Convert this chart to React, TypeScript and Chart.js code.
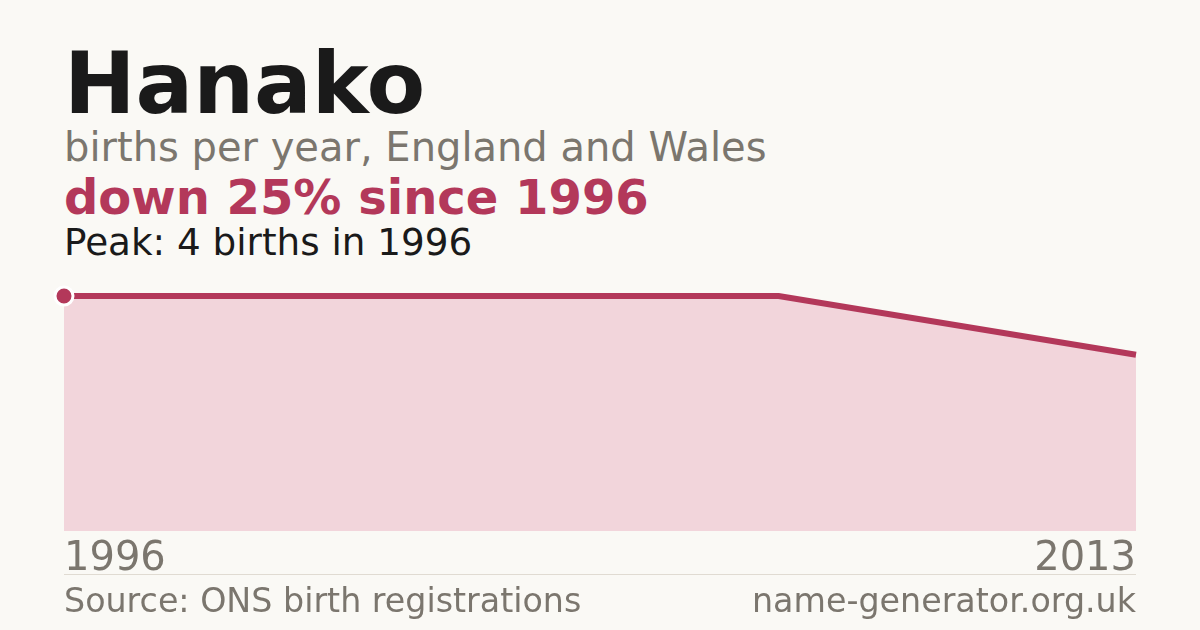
import React, { useEffect, useRef } from 'react';
import Chart from 'chart.js/auto';

// birth counts, only the 1996 peak and the 2013 value are labelled
const years = ['1996', '2002', '2008', '2013'];
const births = [4, 4, 4, 3];
const shownYears = ['1996', '2013'];

const FONT = '"DejaVu Sans", Verdana, sans-serif';
const RED = '#b3385a';
const GREY = '#7b766e';

export default function App() {
  const canvasRef = useRef<HTMLCanvasElement | null>(null);
  const chartRef = useRef<Chart | null>(null);

  useEffect(() => {
    document.body.style.margin = '0';
    if (!canvasRef.current) return;
    if (chartRef.current) chartRef.current.destroy();

    chartRef.current = new Chart(canvasRef.current, {
      type: 'line',
      data: {
        labels: years,
        datasets: [
          {
            data: births,
            borderColor: RED,
            borderWidth: 6,
            backgroundColor: '#f2d5db',
            fill: 'origin',
            tension: 0,
            pointRadius: births.map((_, i) => (i === 0 ? 9 : 0)),
            pointBackgroundColor: RED,
            pointBorderColor: '#ffffff',
            pointBorderWidth: 3,
            clip: false
          }
        ]
      },
      options: {
        responsive: false,
        animation: false,
        layout: { padding: { left: 14, right: 14, top: 16, bottom: 1 } },
        plugins: { legend: { display: false }, tooltip: { enabled: false } },
        scales: {
          x: {
            grid: { display: false, drawTicks: false },
            border: { display: false },
            ticks: {
              autoSkip: false,
              maxRotation: 0,
              align: 'inner',
              padding: 5,
              color: GREY,
              font: { family: FONT, size: 40 },
              callback: (_v, i) => (shownYears.includes(years[i]) ? years[i] : '')
            }
          },
          y: {
            display: false,
            min: 0,
            max: 4
          }
        }
      }
    });

    return () => {
      if (chartRef.current) chartRef.current.destroy();
      chartRef.current = null;
    };
  }, []);

  const text = (top: number, size: number, color: string, bold = false): React.CSSProperties => ({
    position: 'absolute',
    left: 64,
    top,
    fontFamily: FONT,
    fontSize: size,
    lineHeight: 1,
    fontWeight: bold ? 'bold' : 'normal',
    color,
    whiteSpace: 'nowrap'
  });

  return (
    <div style={{ position: 'relative', width: 1200, height: 630, background: '#faf9f5', overflow: 'hidden' }}>
      <div style={text(41, 85.5, '#1a1a1a', true)}>Hanako</div>
      <div style={text(127, 40, GREY)}>births per year, England and Wales</div>
      <div style={text(173, 48, RED, true)}>down 25% since 1996</div>
      <div style={text(224, 37.3, '#1a1a1a')}>Peak: 4 births in 1996</div>
      <canvas
        ref={canvasRef}
        width={1100}
        height={310}
        style={{ position: 'absolute', left: 50, top: 280, width: 1100, height: 310 }}
      />
      <div style={{ position: 'absolute', left: 64, width: 1072, top: 574, height: 1, background: '#e0dbd2' }} />
      <div style={text(584, 33.3, GREY)}>Source: ONS birth registrations</div>
      <div style={{ ...text(584, 33.3, GREY), left: 'auto', right: 64 }}>name-generator.org.uk</div>
    </div>
  );
}
